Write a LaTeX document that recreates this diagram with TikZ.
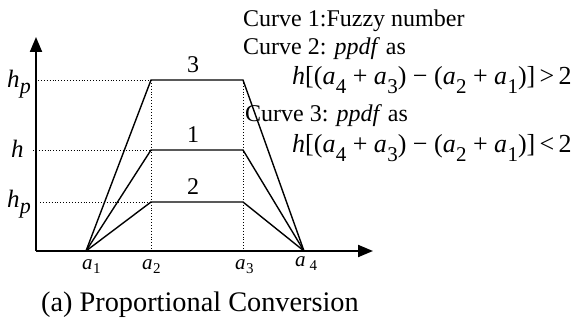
\documentclass[tikz,border=0pt]{standalone}
\usepackage{fontspec}
\setmainfont{Liberation Serif}
\usetikzlibrary{arrows.meta}
\newcommand{\subv}[2]{\textit{#1}\kern0.3pt\raisebox{-\subdrop}{\fontsize{\subsz}{\subsz}\selectfont #2}}
\def\subsz{17}
\def\subdrop{6pt}
\begin{document}
\begin{tikzpicture}[x=1pt,y=-1pt,
  axisline/.style={line width=2pt,-{Triangle[length=15pt,width=12pt]}},
  curveline/.style={line width=1.4pt,line join=miter},
  guide/.style={dotted,line width=0.9pt},
  txt/.style={inner sep=0pt,anchor=base west,font=\fontsize{24}{26}\selectfont},
  frm/.style={inner sep=0pt,anchor=base west,font=\fontsize{26}{30}\selectfont\def\subsz{21}\def\subdrop{9pt}},
  lvl/.style={inner sep=0pt,anchor=base,font=\fontsize{24}{26}\selectfont},
  hlbl/.style={inner sep=0pt,anchor=base west,font=\fontsize{25}{28}\selectfont\def\subsz{22}\def\subdrop{6pt}},
  albl/.style={inner sep=0pt,anchor=base west,font=\fontsize{21}{24}\selectfont\def\subsz{15}\def\subdrop{3.5pt}}]
\useasboundingbox (0,0) rectangle (582,320);
% key points
\coordinate (O) at (36,251);
\coordinate (xend) at (373,251);
\coordinate (yend) at (36,37);
\coordinate (a1) at (86,251);
\coordinate (a2) at (151,251);
\coordinate (a3) at (243,251);
\coordinate (a4) at (304,251);
\coordinate (t2) at (151,80);
\coordinate (t3) at (243,80);
\coordinate (m2) at (151,150);
\coordinate (m3) at (243,150);
\coordinate (l2) at (151,202);
\coordinate (l3) at (243,202);
\coordinate (dt) at (38,80);
\coordinate (dm) at (33,150);
\coordinate (dl) at (40,202);
% guides
\draw[guide] (dt) -- (t2);
\draw[guide] (dm) -- (m2);
\draw[guide] (dl) -- (l2);
\draw[guide] (t2) -- (a2);
\draw[guide] (t3) -- (a3);
% axes
\draw[axisline] (O) -- (xend);
\draw[axisline] (O) -- (yend);
% curves
\draw[curveline] (a1) -- (t2) -- (t3) -- (a4);
\draw[curveline] (a1) -- (m2) -- (m3) -- (a4);
\draw[curveline] (a1) -- (l2) -- (l3) -- (a4);
% level numbers
\node[lvl] (n3) at (193,73) {3};
\node[lvl] (n1) at (193,143) {1};
\node[lvl] (n2) at (193,195) {2};
% left labels
\node[hlbl] (hp1) at (7,88) {\subv{h}{\textit{p}}};
\node[hlbl] (hh) at (11,158) {\textit{h}};
\node[hlbl] (hp2) at (7,208) {\subv{h}{\textit{p}}};
% axis labels
\node[albl] (la1) at (82,270) {\subv{a}{1}};
\node[albl] (la2) at (142,270) {\subv{a}{2}};
\node[albl] (la3) at (235,270) {\subv{a}{3}};
\node[albl] (la4) at (295,267) {\textit{a}\kern4pt\raisebox{-\subdrop}{\fontsize{15}{16}\selectfont 4}};
% legend
\node[txt] (c1) at (243,27) {Curve 1:Fuzzy number};
\node[txt] (c2) at (243,55) {Curve 2: \textit{ppdf} as};
\node[frm] (f2) at (292,85) {\textit{h}[(\subv{a}{4} + \subv{a}{3}) − (\subv{a}{2} + \subv{a}{1})]\,>\,2};
\node[txt] (c3) at (245,122) {Curve 3: \textit{ppdf} as};
\node[frm] (f3) at (292,153) {\textit{h}[(\subv{a}{4} + \subv{a}{3}) − (\subv{a}{2} + \subv{a}{1})]\,<\,2};
% caption
\node[inner sep=0pt,anchor=base west,font=\fontsize{28.3}{30}\selectfont] (cap) at (41,312) {(a) Proportional Conversion};
\end{tikzpicture}
\end{document}
